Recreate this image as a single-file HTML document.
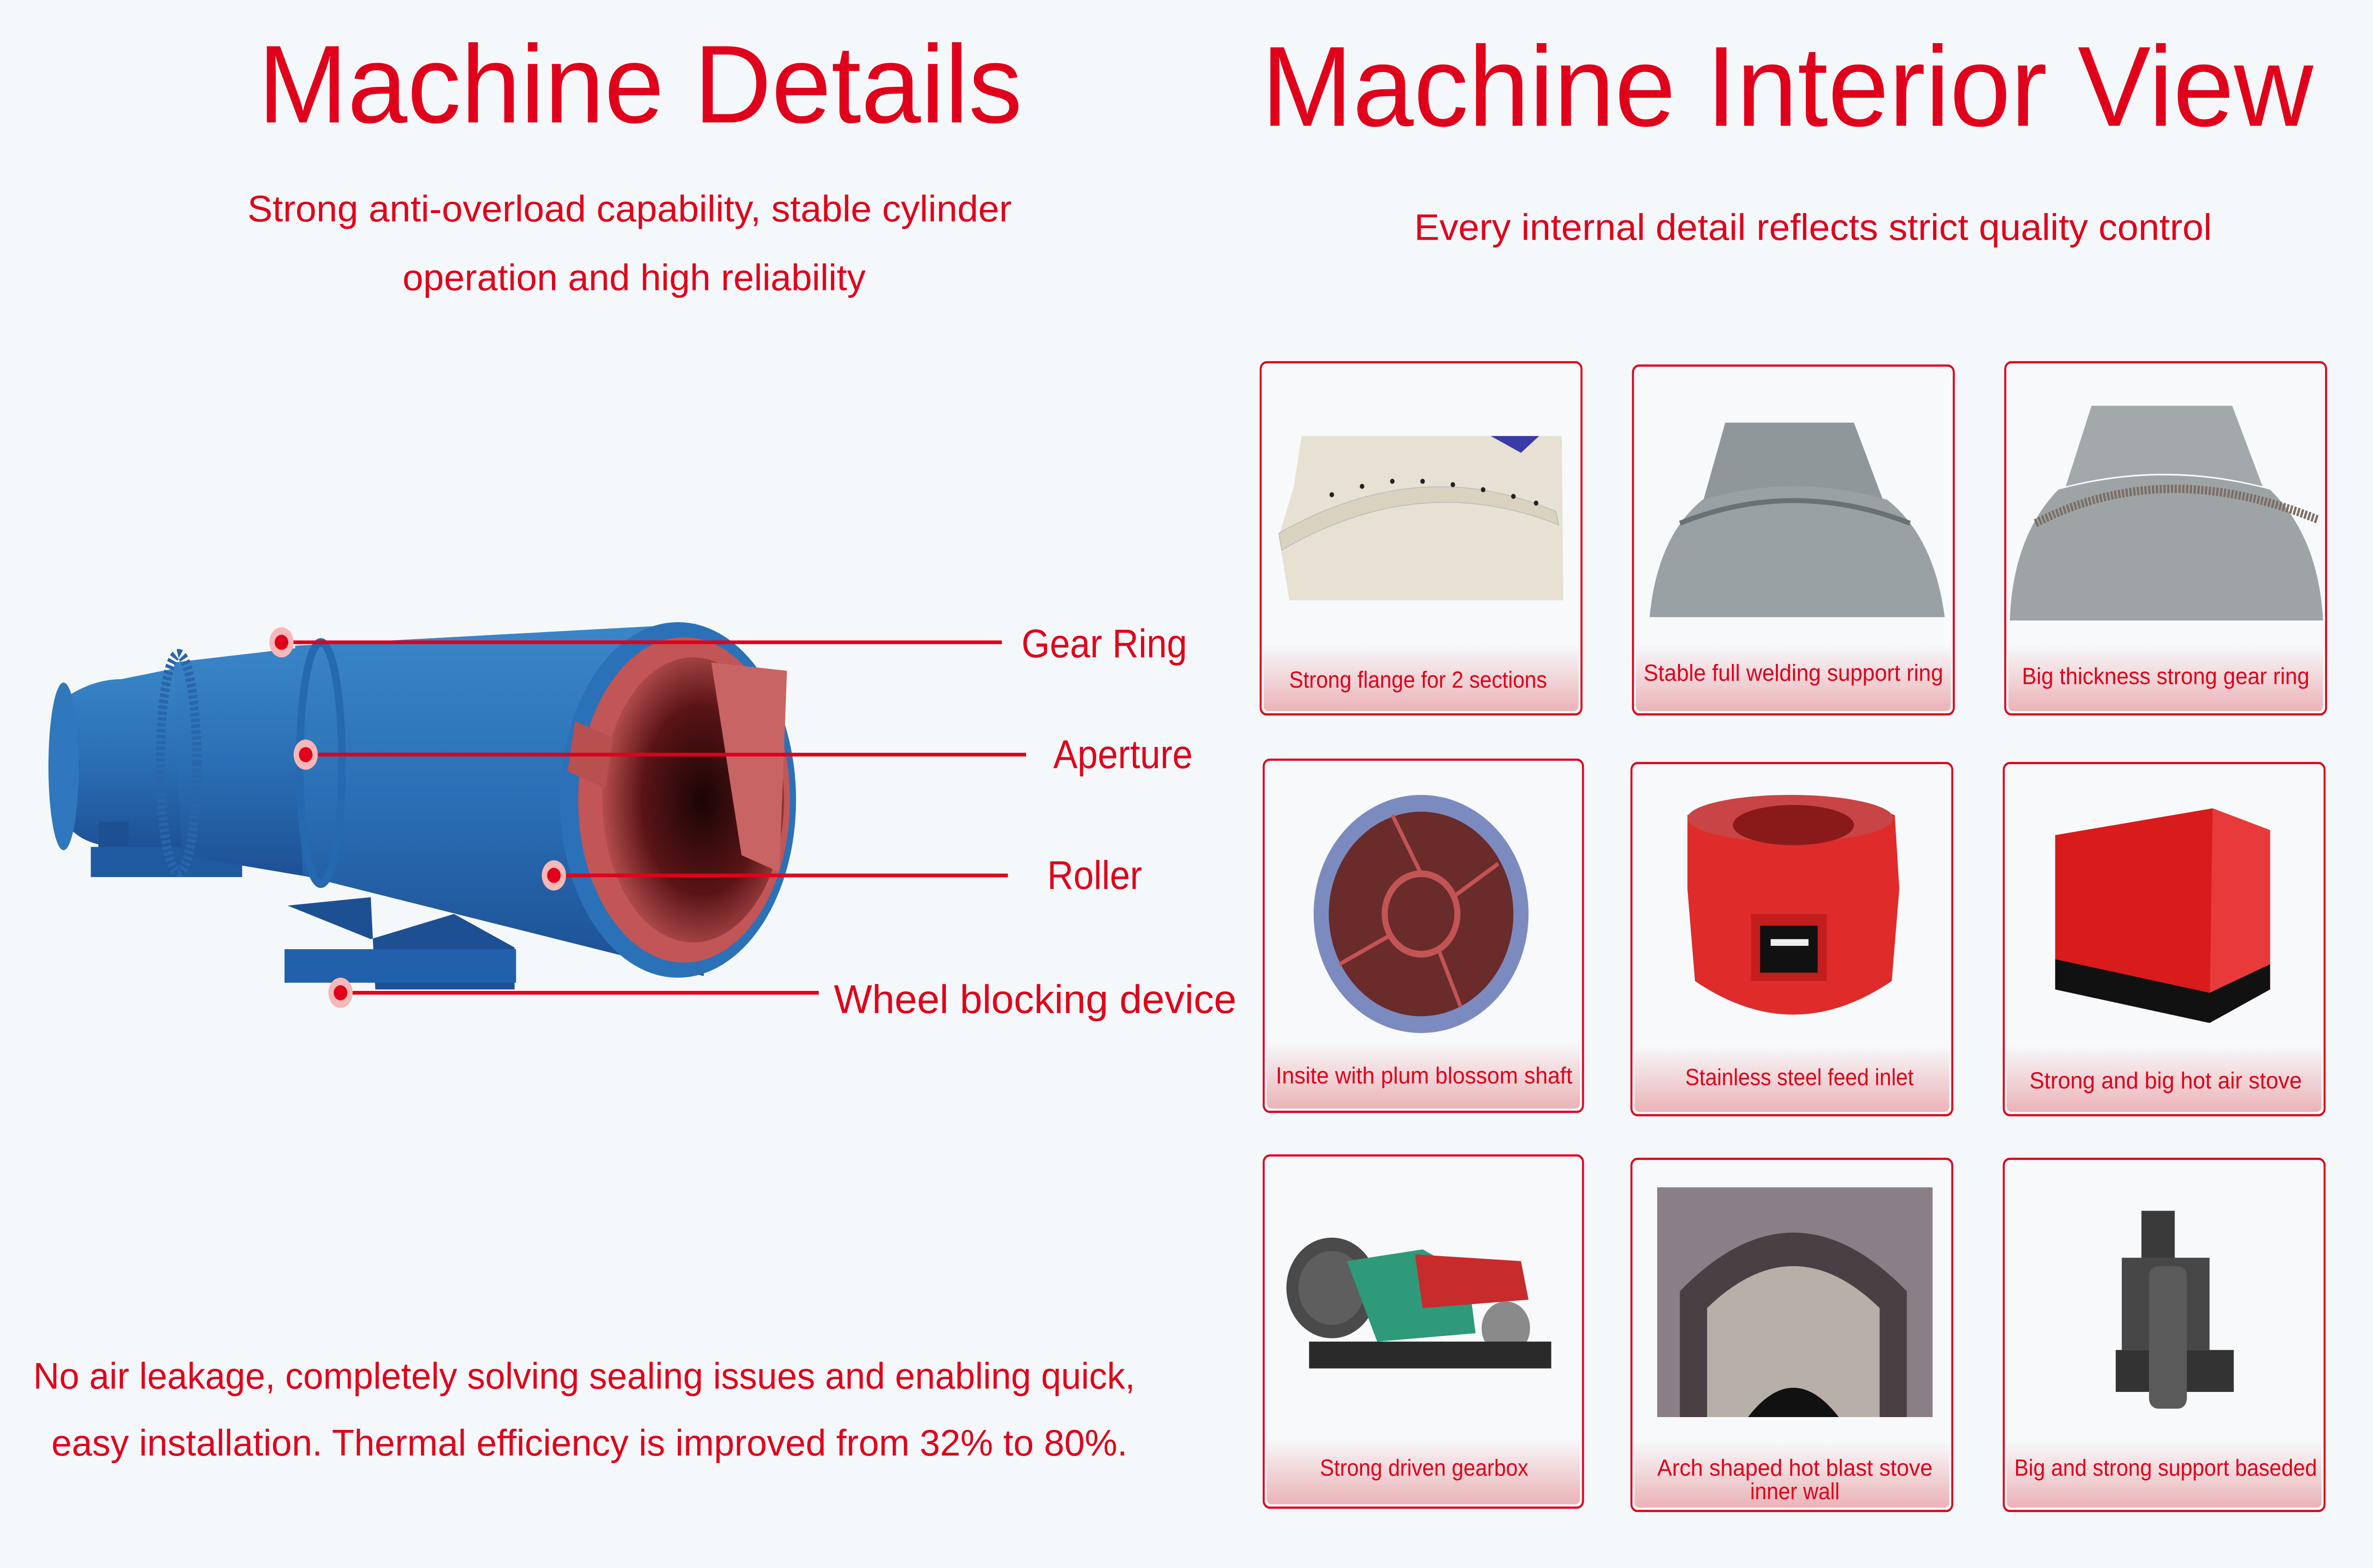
<!DOCTYPE html>
<html><head><meta charset="utf-8"><style>
html,body{margin:0;padding:0;background:#f5f8fa;width:100%;height:100%;overflow:hidden;}
svg{display:block;width:100vw;height:100vh;}
text{font-family:"Liberation Sans",sans-serif;fill:#e0001b;}
</style></head><body>
<svg viewBox="0 0 1568 935" preserveAspectRatio="none" xmlns="http://www.w3.org/2000/svg">
<defs>
<linearGradient id="cap" x1="0" y1="0" x2="0" y2="1"><stop offset="0" stop-color="#f7f8fa"/><stop offset="1" stop-color="#ebb3b7"/></linearGradient>
<linearGradient id="blue" x1="0" y1="0" x2="0" y2="1"><stop offset="0" stop-color="#3a86c8"/><stop offset="0.5" stop-color="#2a6fb5"/><stop offset="1" stop-color="#1d4f93"/></linearGradient>
<radialGradient id="inner" cx="0.55" cy="0.5" r="0.6"><stop offset="0" stop-color="#1a0506"/><stop offset="0.55" stop-color="#5a1416"/><stop offset="1" stop-color="#c95a5a"/></radialGradient>
</defs>
<rect width="1568" height="935" fill="#f5f8fa"/>

<text x="423" y="73" font-size="66" text-anchor="middle" textLength="505" lengthAdjust="spacingAndGlyphs">Machine Details</text>
<text x="1181" y="75" font-size="68" text-anchor="middle" textLength="695" lengthAdjust="spacingAndGlyphs">Machine Interior View</text>
<text x="416" y="132" font-size="22" text-anchor="middle" textLength="505" lengthAdjust="spacingAndGlyphs">Strong anti-overload capability, stable cylinder</text>
<text x="419" y="173" font-size="22" text-anchor="middle" textLength="306" lengthAdjust="spacingAndGlyphs">operation and high reliability</text>
<text x="1198" y="143" font-size="22" text-anchor="middle" textLength="527" lengthAdjust="spacingAndGlyphs">Every internal detail reflects strict quality control</text>

<g>
<path d="M40 418 Q60 405 80 405 L135 395 L138 510 L80 505 Q40 505 35 470 Z" fill="url(#blue)"/>
<ellipse cx="42" cy="457" rx="10" ry="50" fill="#2f78bd"/>
<rect x="65" y="490" width="20" height="20" fill="#1d4f93"/>
<rect x="60" y="505" width="100" height="18" fill="#1f5aa0"/>
<path d="M115 395 L210 385 L218 525 L120 510 Z" fill="url(#blue)"/>
<ellipse cx="118" cy="455" rx="12" ry="65" fill="none" stroke="#2a65aa" stroke-width="6" stroke-dasharray="2 1.5"/>
<path d="M195 385 L460 372 L465 582 L200 522 Z" fill="url(#blue)"/>
<path d="M190 540 L245 535 L248 590 L340 590 L340 565 L300 545 L245 560 Z" fill="#1d4f93"/>
<rect x="188" y="566" width="153" height="20" fill="#2161ab"/>
<ellipse cx="212" cy="455" rx="14" ry="72" fill="none" stroke="#2569b0" stroke-width="5"/>
<ellipse cx="448" cy="477" rx="78" ry="106" fill="#2b71b8"/>
<ellipse cx="452" cy="477" rx="70" ry="97" fill="#c25555"/>
<ellipse cx="458" cy="477" rx="60" ry="85" fill="url(#inner)"/>
<path d="M470 395 L520 400 L515 520 L490 510 Z" fill="#c96464"/>
<path d="M380 430 L405 440 L400 470 L375 460 Z" fill="#b85050"/>
</g>
<g stroke="#e0001b" stroke-width="2.2">
<line x1="186" y1="383" x2="662" y2="383"/>
<line x1="202" y1="450" x2="678" y2="450"/>
<line x1="366" y1="522" x2="666" y2="522"/>
<line x1="225" y1="592" x2="541" y2="592"/>
</g>
<g>
<ellipse cx="186" cy="383" rx="8" ry="9" fill="#f7b8b8"/><circle cx="186" cy="383" r="4.5" fill="#e0001b"/>
<ellipse cx="202" cy="450" rx="8" ry="9" fill="#f7b8b8"/><circle cx="202" cy="450" r="4.5" fill="#e0001b"/>
<ellipse cx="366" cy="522" rx="8" ry="9" fill="#f7b8b8"/><circle cx="366" cy="522" r="4.5" fill="#e0001b"/>
<ellipse cx="225" cy="592" rx="8" ry="9" fill="#f7b8b8"/><circle cx="225" cy="592" r="4.5" fill="#e0001b"/>
</g>
<text x="675" y="392" font-size="24">Gear Ring</text>
<text x="696" y="458" font-size="24">Aperture</text>
<text x="692" y="530" font-size="24">Roller</text>
<text x="551" y="604" font-size="24" textLength="266" lengthAdjust="spacingAndGlyphs">Wheel blocking device</text>

<text x="22" y="828" font-size="22" textLength="728" lengthAdjust="spacingAndGlyphs">No air leakage, completely solving sealing issues and enabling quick,</text>
<text x="34" y="868" font-size="22" textLength="711" lengthAdjust="spacingAndGlyphs">easy installation. Thermal efficiency is improved from 32% to 80%.</text>

<g>
<rect x="833" y="216" width="212" height="210" rx="4" fill="#f7f9fb" stroke="#e0001b" stroke-width="1.3"/>
<rect x="835" y="385" width="208" height="39" rx="3" fill="url(#cap)"/>
<rect x="1079" y="218" width="212" height="208" rx="4" fill="#f7f9fb" stroke="#e0001b" stroke-width="1.3"/>
<rect x="1081" y="385" width="208" height="39" rx="3" fill="url(#cap)"/>
<rect x="1325" y="216" width="212" height="210" rx="4" fill="#f7f9fb" stroke="#e0001b" stroke-width="1.3"/>
<rect x="1327" y="385" width="208" height="39" rx="3" fill="url(#cap)"/>

<rect x="835" y="453" width="211" height="210" rx="4" fill="#f7f9fb" stroke="#e0001b" stroke-width="1.3"/>
<rect x="837" y="622" width="207" height="39" rx="3" fill="url(#cap)"/>
<rect x="1078" y="455" width="212" height="210" rx="4" fill="#f7f9fb" stroke="#e0001b" stroke-width="1.3"/>
<rect x="1080" y="624" width="208" height="39" rx="3" fill="url(#cap)"/>
<rect x="1324" y="455" width="212" height="210" rx="4" fill="#f7f9fb" stroke="#e0001b" stroke-width="1.3"/>
<rect x="1326" y="624" width="208" height="39" rx="3" fill="url(#cap)"/>

<rect x="835" y="689" width="211" height="210" rx="4" fill="#f7f9fb" stroke="#e0001b" stroke-width="1.3"/>
<rect x="837" y="858" width="207" height="39" rx="3" fill="url(#cap)"/>
<rect x="1078" y="691" width="212" height="210" rx="4" fill="#f7f9fb" stroke="#e0001b" stroke-width="1.3"/>
<rect x="1080" y="860" width="208" height="39" rx="3" fill="url(#cap)"/>
<rect x="1324" y="691" width="212" height="210" rx="4" fill="#f7f9fb" stroke="#e0001b" stroke-width="1.3"/>
<rect x="1326" y="860" width="208" height="39" rx="3" fill="url(#cap)"/>
</g>

<path d="M860 260 L1032 260 L1033 358 L852 358 L845 320 L855 290 Z" fill="#e6e1d2"/>
<path d="M845 318 Q938 270 1028 305 L1030 313 Q938 280 847 328 Z" fill="#d8d2bf" stroke="#bbb" stroke-width="0.5"/>
<g fill="#222"><circle cx="880" cy="295" r="1.5"/><circle cx="900" cy="290" r="1.5"/><circle cx="920" cy="287" r="1.5"/><circle cx="940" cy="287" r="1.5"/><circle cx="960" cy="289" r="1.5"/><circle cx="980" cy="292" r="1.5"/><circle cx="1000" cy="296" r="1.5"/><circle cx="1015" cy="300" r="1.5"/></g>
<path d="M985 260 L1017 260 L1005 270 Z" fill="#3a3aa8"/>

<path d="M1140 252 L1225 252 L1245 300 Q1185 285 1125 300 Z" fill="#8f979a"/>
<path d="M1090 368 Q1095 320 1125 298 Q1185 282 1247 298 Q1278 320 1285 368 Z" fill="#9aa1a4"/>
<path d="M1110 312 Q1185 285 1262 312" fill="none" stroke="#6a7174" stroke-width="3"/>

<path d="M1382 242 L1475 242 L1495 290 Q1430 275 1365 290 Z" fill="#a3a9ab"/>
<path d="M1328 370 Q1330 320 1360 292 Q1430 275 1500 292 Q1532 320 1535 370 Z" fill="#9ea4a6"/>
<path d="M1345 312 Q1430 272 1532 310" fill="none" stroke="#7c6e63" stroke-width="5" stroke-dasharray="1.5 1"/>

<circle cx="939" cy="545" r="71" fill="#7c8bbf"/>
<circle cx="939" cy="545" r="61" fill="#6a2b2b"/>
<circle cx="939" cy="545" r="24" fill="none" stroke="#c35454" stroke-width="4"/>
<g stroke="#c35454" stroke-width="2.5"><line x1="939" y1="521" x2="920" y2="486"/><line x1="960" y1="535" x2="990" y2="515"/><line x1="950" y1="565" x2="965" y2="600"/><line x1="918" y1="558" x2="885" y2="575"/></g>

<path d="M1115 486 Q1185 466 1252 486 L1255 530 L1250 585 Q1185 625 1120 585 L1115 530 Z" fill="#e02b2b"/>
<ellipse cx="1183" cy="488" rx="68" ry="14" fill="#c94444"/>
<ellipse cx="1185" cy="492" rx="40" ry="12" fill="#8a1a1a"/>
<rect x="1157" y="545" width="50" height="40" fill="#c21e1e"/>
<rect x="1163" y="552" width="38" height="28" fill="#111"/>
<rect x="1170" y="560" width="25" height="4" fill="#eee"/>

<path d="M1358 498 L1462 482 L1500 495 L1500 590 L1460 610 L1358 590 Z" fill="#d81b1b"/>
<path d="M1462 482 L1500 495 L1500 590 L1460 610 Z" fill="#e83a3a"/>
<path d="M1358 572 L1460 592 L1500 575 L1500 590 L1460 610 L1358 590 Z" fill="#111"/>

<circle cx="880" cy="768" r="30" fill="#4a4a4a"/>
<circle cx="880" cy="768" r="22" fill="#5e5e5e"/>
<path d="M890 752 L940 745 L970 760 L975 795 L910 800 Z" fill="#2e9a7a"/>
<path d="M935 748 L1005 752 L1010 775 L940 780 Z" fill="#c82b2b"/>
<circle cx="995" cy="792" r="16" fill="#8a8a8a"/>
<rect x="865" y="800" width="160" height="16" fill="#2a2a2a"/>

<rect x="1095" y="708" width="182" height="137" fill="#8a7f86"/>
<path d="M1110 845 L1110 770 Q1185 700 1260 770 L1260 845 Z" fill="#4a4044"/>
<path d="M1128 845 L1128 780 Q1185 730 1242 780 L1242 845 Z" fill="#b7b0a8"/>
<path d="M1155 845 Q1185 810 1215 845 Z" fill="#111"/>

<rect x="1415" y="722" width="22" height="30" fill="#3a3a3a"/>
<rect x="1402" y="750" width="58" height="55" fill="#474747"/>
<rect x="1398" y="805" width="78" height="25" fill="#333"/>
<rect x="1420" y="755" width="25" height="85" rx="6" fill="#5a5a5a"/>

<g font-size="14" text-anchor="middle">
<text x="937" y="410">Strong flange for 2 sections</text>
<text x="1185" y="406" textLength="198" lengthAdjust="spacingAndGlyphs">Stable full welding support ring</text>
<text x="1431" y="408" textLength="190" lengthAdjust="spacingAndGlyphs">Big thickness strong gear ring</text>
<text x="941" y="646" textLength="196" lengthAdjust="spacingAndGlyphs">Insite with plum blossom shaft</text>
<text x="1189" y="647">Stainless steel feed inlet</text>
<text x="1431" y="649" textLength="180" lengthAdjust="spacingAndGlyphs">Strong and big hot air stove</text>
<text x="941" y="880">Strong driven gearbox</text>
<text x="1186" y="880" textLength="182" lengthAdjust="spacingAndGlyphs">Arch shaped hot blast stove</text>
<text x="1186" y="894">inner wall</text>
<text x="1431" y="880" textLength="200" lengthAdjust="spacingAndGlyphs">Big and strong support baseded</text>
</g>
</svg>
</body></html>
